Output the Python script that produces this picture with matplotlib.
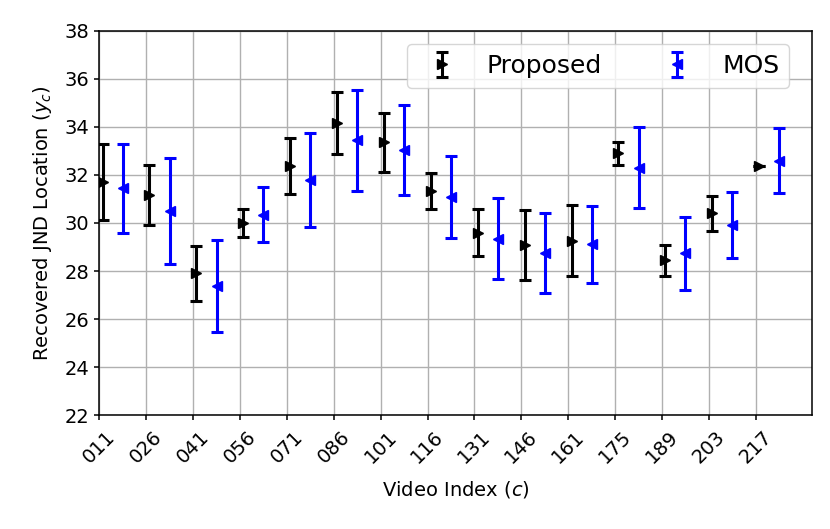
import numpy as np
import matplotlib
matplotlib.use("Agg")
import matplotlib.pyplot as plt

# video indices on the x axis
videos = ["011", "026", "041", "056", "071", "086", "101", "116",
          "131", "146", "161", "175", "189", "203", "217"]

# proposed method: mean and std of recovered JND location
prop_mean = [31.72, 31.16, 27.90, 30.00, 32.39, 34.16, 33.36, 31.33,
             29.60, 29.07, 29.27, 32.91, 28.44, 30.40, 32.38]
prop_err = [1.58, 1.24, 1.15, 0.58, 1.17, 1.29, 1.24, 0.75,
            0.98, 1.46, 1.46, 0.48, 0.65, 0.73, 0.0]

# MOS based
mos_mean = [31.45, 30.51, 27.37, 30.35, 31.79, 33.44, 33.03, 31.07,
            29.34, 28.74, 29.12, 32.30, 28.74, 29.91, 32.59]
mos_err = [1.85, 2.20, 1.92, 1.14, 1.95, 2.11, 1.87, 1.71,
           1.69, 1.67, 1.60, 1.69, 1.53, 1.38, 1.35]

x = np.arange(len(videos))

fig = plt.figure(figsize=(8.3, 5.29), dpi=100)
ax = fig.add_axes([0.1196, 0.2155, 0.8588, 0.7259])

ax.errorbar(x + 0.07, prop_mean, yerr=prop_err, fmt=">", color="black",
            markersize=6.5, elinewidth=2.2, capsize=4.5, capthick=2.2,
            label="Proposed")
ax.errorbar(x + 0.5, mos_mean, yerr=mos_err, fmt="<", color="blue",
            markersize=6.5, elinewidth=2.2, capsize=4.5, capthick=2.2,
            label="MOS")

ax.set_xticks(x)
ax.set_xticklabels(videos, rotation=45)
ax.set_xlim(0, 15.2)
ax.set_ylim(22, 38)
ax.set_yticks(np.arange(22, 39, 2))
ax.tick_params(labelsize=14, width=1.1)
ax.tick_params(axis="x", pad=5)
ax.grid(True, linewidth=1.0)
for s in ax.spines.values():
    s.set_linewidth(1.1)

ax.set_xlabel("Video Index ($c$)", fontsize=14, labelpad=9)
ax.set_ylabel("Recovered JND Location ($y_c$)", fontsize=14, labelpad=8)

ax.legend(ncol=2, fontsize=18, loc="upper right",
          bbox_to_anchor=(0.968, 0.966), borderaxespad=0)

fig.savefig("out.png", dpi=100)
